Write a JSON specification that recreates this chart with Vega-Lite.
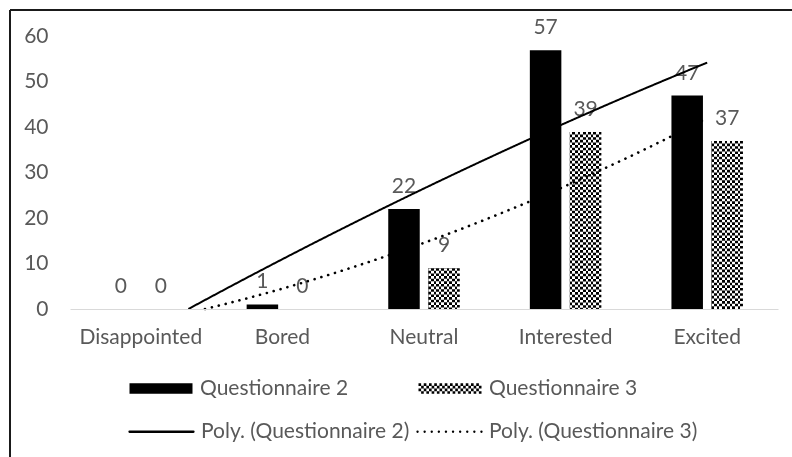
{
"$schema": "https://vega.github.io/schema/vega-lite/v6.json",
"width": 782,
"height": 447,
"autosize": {"type": "none"},
"padding": {"left": 10, "top": 10, "right": 0, "bottom": 0},
"background": "white",
"config": {
  "view": {"stroke": "#1a1a1a", "strokeWidth": 2, "strokeDash": [782, 1229, 447, 0]},
  "axis": {"labelFont": "Lato", "labelFontSize": 21, "labelColor": "#595959", "title": null, "grid": false, "ticks": false},
  "legend": {"labelFont": "Lato", "labelFontSize": 21, "labelColor": "#595959", "padding": 0, "title": null, "labelLimit": 400},
  "text": {"font": "Lato"}
},
"data": {"values": [
  {"category": "Disappointed", "series": "Questionnaire 2", "value": 0},
  {"category": "Disappointed", "series": "Questionnaire 3", "value": 0},
  {"category": "Bored", "series": "Questionnaire 2", "value": 1},
  {"category": "Bored", "series": "Questionnaire 3", "value": 0},
  {"category": "Neutral", "series": "Questionnaire 2", "value": 22},
  {"category": "Neutral", "series": "Questionnaire 3", "value": 9},
  {"category": "Interested", "series": "Questionnaire 2", "value": 57},
  {"category": "Interested", "series": "Questionnaire 3", "value": 39},
  {"category": "Excited", "series": "Questionnaire 2", "value": 47},
  {"category": "Excited", "series": "Questionnaire 3", "value": 37}
]},
"resolve": {"scale": {"x": "independent"}},
"layer": [
  {
    "encoding": {
      "x": {"field": "category", "type": "nominal",
        "scale": {"domain": ["Disappointed", "Bored", "Neutral", "Interested", "Excited"], "range": [60, 768], "paddingInner": 0, "paddingOuter": 0},
        "axis": {"orient": "bottom", "offset": -148, "domainColor": "#d9d9d9", "domainWidth": 1, "ticks": false, "labelPadding": 34, "labelBaseline": "alphabetic", "labelAngle": 0, "zindex": 1}},
      "xOffset": {"field": "series", "type": "nominal",
        "scale": {"domain": ["Questionnaire 2", "Questionnaire 3"], "paddingInner": 0.2125, "paddingOuter": 0.876}},
      "y": {"field": "value", "type": "quantitative",
        "scale": {"domain": [0, 60], "range": [299, 26.5], "nice": false, "zero": false},
        "axis": {"orient": "left", "offset": -60, "domain": false, "ticks": false, "grid": false, "labelPadding": 22, "values": [0, 10, 20, 30, 40, 50, 60], "zindex": 1}}
    },
    "layer": [
      {
        "transform": [{"filter": "datum.series === 'Questionnaire 2'"}],
        "mark": {"type": "bar", "stroke": null},
        "encoding": {
          "fill": {"field": "series", "type": "nominal",
            "scale": {"domain": ["Questionnaire 2", "Questionnaire 3"], "range": ["#000000", "#808080"]},
            "legend": {"orient": "none", "legendX": 118, "legendY": 345.5, "direction": "horizontal", "title": null,
              "symbolType": "M-1,-0.125H1M1,-0.0417H-1M-1,0.0417H1M1,0.125H-1",
              "symbolSize": 3969, "symbolStrokeWidth": 2.625, "symbolStrokeColor": "black", "symbolFillColor": "transparent",
              "symbolDash": {"expr": "datum.value === 'Questionnaire 3' ? [2.625, 2.625] : [1, 0]"},
              "labelOffset": 6, "columnPadding": 64}}
        }
      },
      {
        "transform": [{"filter": "datum.series === 'Questionnaire 3'"}],
        "mark": {"type": "bar", "stroke": null, "fill": {"gradient": "linear", "x1": 0, "y1": 0, "x2": 1, "y2": 0, "stops": [
          {"offset": 0, "color": "#000000"}, {"offset": 0.08333, "color": "#000000"},
          {"offset": 0.08333, "color": "#ffffff"}, {"offset": 0.16667, "color": "#ffffff"},
          {"offset": 0.16667, "color": "#000000"}, {"offset": 0.25, "color": "#000000"},
          {"offset": 0.25, "color": "#ffffff"}, {"offset": 0.33333, "color": "#ffffff"},
          {"offset": 0.33333, "color": "#000000"}, {"offset": 0.41667, "color": "#000000"},
          {"offset": 0.41667, "color": "#ffffff"}, {"offset": 0.5, "color": "#ffffff"},
          {"offset": 0.5, "color": "#000000"}, {"offset": 0.58333, "color": "#000000"},
          {"offset": 0.58333, "color": "#ffffff"}, {"offset": 0.66667, "color": "#ffffff"},
          {"offset": 0.66667, "color": "#000000"}, {"offset": 0.75, "color": "#000000"},
          {"offset": 0.75, "color": "#ffffff"}, {"offset": 0.83333, "color": "#ffffff"},
          {"offset": 0.83333, "color": "#000000"}, {"offset": 0.91667, "color": "#000000"},
          {"offset": 0.91667, "color": "#ffffff"}, {"offset": 1, "color": "#ffffff"}
        ]}}
      },
      {
        "transform": [{"filter": "datum.series === 'Questionnaire 3'"}],
        "mark": {"type": "rule", "stroke": "white", "strokeWidth": 31.5, "strokeDash": [2.625, 2.625], "blend": "difference"},
        "encoding": {"y2": {"datum": 0}}
      },
      {
        "mark": {"type": "text", "baseline": "alphabetic", "dy": -16, "fontSize": 21, "color": "#595959", "font": "Lato"},
        "encoding": {"text": {"field": "value", "type": "quantitative"}}
      }
    ]
  },
  {
    "encoding": {
      "x": {"field": "idx", "type": "quantitative", "scale": {"domain": [0.5, 5.5], "range": [60, 768], "nice": false, "zero": false}, "axis": null},
      "y": {"field": "value", "type": "quantitative", "scale": {"domain": [0, 60], "range": [299, 26.5], "nice": false, "zero": false}},
      "strokeDash": {"field": "trend", "type": "nominal",
        "scale": {"domain": ["Poly. (Questionnaire 2)", "Poly. (Questionnaire 3)"], "range": [[1, 0], [0.1, 7]]},
        "legend": {"orient": "none", "legendX": 118, "legendY": 388, "direction": "horizontal", "title": null,
          "symbolType": "stroke", "symbolSize": 4096, "symbolStrokeColor": "black", "symbolStrokeWidth": 2.3,
          "labelOffset": 6, "columnPadding": 2,
          "encode": {"symbols": {"update": {
            "stroke": {"value": "black"},
            "strokeCap": {"value": "round"}
          }}}}}
    },
    "layer": [
      {
        "transform": [
          {"filter": "datum.series === 'Questionnaire 2'"},
          {"window": [{"op": "row_number", "as": "idx"}]},
          {"regression": "value", "on": "idx", "method": "poly", "order": 2, "extent": [1.336, 5], "groupby": ["series"]},
          {"calculate": "'Poly. (' + datum.series + ')'", "as": "trend"}
        ],
        "mark": {"type": "line", "color": "black", "strokeWidth": 2}
      },
      {
        "transform": [
          {"filter": "datum.series === 'Questionnaire 3'"},
          {"window": [{"op": "row_number", "as": "idx"}]},
          {"regression": "value", "on": "idx", "method": "poly", "order": 2, "extent": [1.453, 5], "groupby": ["series"]},
          {"calculate": "'Poly. (' + datum.series + ')'", "as": "trend"}
        ],
        "mark": {"type": "line", "color": "black", "strokeWidth": 2.6, "strokeCap": "round"}
      }
    ]
  }
]
}
